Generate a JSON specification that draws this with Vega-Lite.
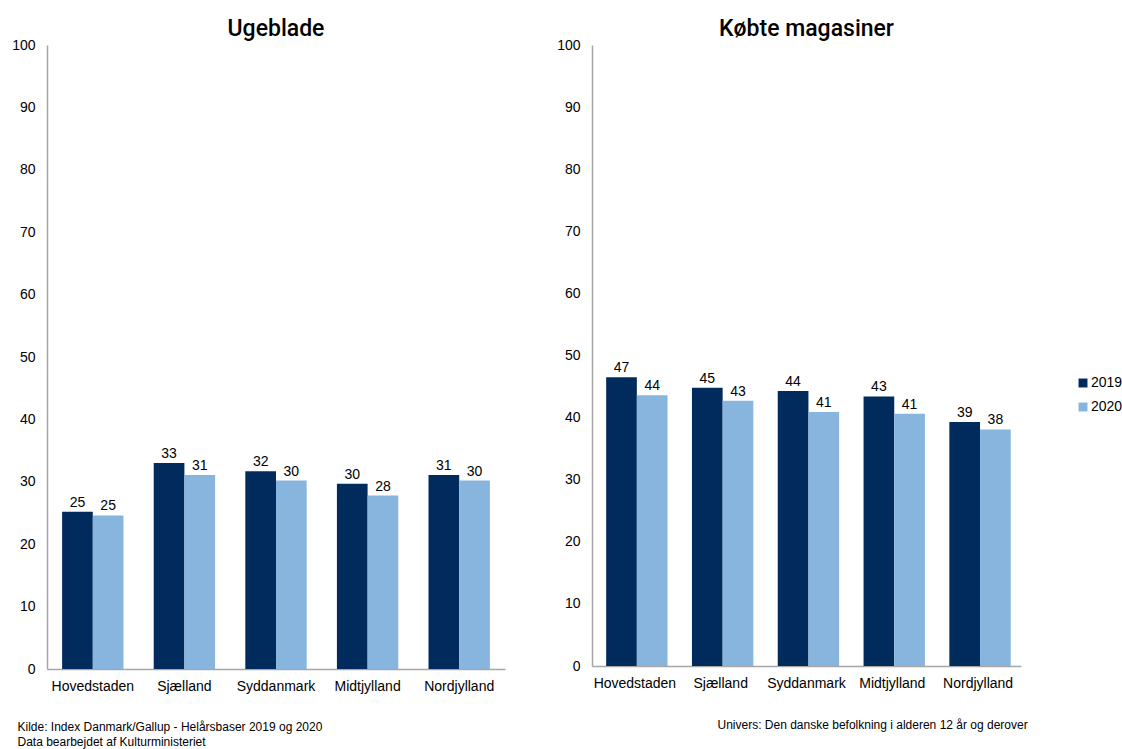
{
  "$schema": "https://vega.github.io/schema/vega-lite/v6.json",
  "background": "white",
  "padding": {"left": 11, "top": 18, "right": 0, "bottom": 5},
  "config": {
    "font": "Liberation Sans",
    "view": {"stroke": null},
    "axis": {"labelFont": "Liberation Sans", "labelFontSize": 14, "labelColor": "#000000", "grid": false, "ticks": false, "domainColor": "#a6a6a6", "domainWidth": 1.5},
    "title": {"font": "Roboto", "fontSize": 23, "fontWeight": 500, "color": "#000000", "anchor": "middle", "offset": -3},
    "legend": {"labelFont": "Liberation Sans", "labelFontSize": 14, "labelColor": "#000000"}
  },
  "datasets": {
    "uge": [
      {"region": "Hovedstaden", "year": "2019", "value": 25.2},
      {"region": "Hovedstaden", "year": "2020", "value": 24.6},
      {"region": "Sjælland", "year": "2019", "value": 33.0},
      {"region": "Sjælland", "year": "2020", "value": 31.1},
      {"region": "Syddanmark", "year": "2019", "value": 31.7},
      {"region": "Syddanmark", "year": "2020", "value": 30.2},
      {"region": "Midtjylland", "year": "2019", "value": 29.7},
      {"region": "Midtjylland", "year": "2020", "value": 27.8},
      {"region": "Nordjylland", "year": "2019", "value": 31.1},
      {"region": "Nordjylland", "year": "2020", "value": 30.2}
    ],
    "mag": [
      {"region": "Hovedstaden", "year": "2019", "value": 46.5},
      {"region": "Hovedstaden", "year": "2020", "value": 43.6},
      {"region": "Sjælland", "year": "2019", "value": 44.8},
      {"region": "Sjælland", "year": "2020", "value": 42.7},
      {"region": "Syddanmark", "year": "2019", "value": 44.3},
      {"region": "Syddanmark", "year": "2020", "value": 40.9},
      {"region": "Midtjylland", "year": "2019", "value": 43.4},
      {"region": "Midtjylland", "year": "2020", "value": 40.6},
      {"region": "Nordjylland", "year": "2019", "value": 39.3},
      {"region": "Nordjylland", "year": "2020", "value": 38.1}
    ]
  },
  "resolve": {"legend": {"color": "independent"}},
  "spacing": 51,
  "hconcat": [
    {
      "title": "Ugeblade",
      "width": 458,
      "height": 624,
      "data": {"name": "uge"},
      "encoding": {
        "x": {"field": "region", "type": "nominal", "sort": null,
              "scale": {"paddingInner": 0.33, "paddingOuter": 0.165},
              "axis": {"labelAngle": 0, "labelPadding": 10,
                       "title": ["Kilde: Index Danmark/Gallup - Helårsbaser 2019 og 2020", "Data bearbejdet af Kulturministeriet"],
                       "titleFont": "Liberation Sans", "titleFontSize": 12, "titleFontWeight": "normal", "titleColor": "#000000",
                       "titleAlign": "left", "titleAnchor": "start", "titleX": -30, "titleY": 52, "titleBaseline": "top", "titleLineHeight": 15}},
        "xOffset": {"field": "year", "type": "nominal"},
        "y": {"field": "value", "type": "quantitative",
              "scale": {"domain": [0, 100]},
              "axis": {"title": null, "values": [0,10,20,30,40,50,60,70,80,90,100], "labelPadding": 12}}
      },
      "layer": [
        {"mark": {"type": "bar"},
         "encoding": {"color": {"field": "year", "type": "nominal", "scale": {"domain": ["2019", "2020"], "range": ["#002b5c", "#88b5dd"]}, "legend": null}}},
        {"mark": {"type": "text", "dy": -9, "fontSize": 14, "color": "#000000", "font": "Liberation Sans"},
         "encoding": {"text": {"field": "value", "type": "quantitative", "format": ".0f"}}}
      ]
    },
    {
      "title": "Købte magasiner",
      "width": 429,
      "height": 621,
      "data": {"name": "mag"},
      "encoding": {
        "x": {"field": "region", "type": "nominal", "sort": null,
              "scale": {"paddingInner": 0.33, "paddingOuter": 0.165},
              "axis": {"labelAngle": 0, "labelPadding": 10,
                       "title": "Univers: Den danske befolkning i alderen 12 år og derover",
                       "titleFont": "Liberation Sans", "titleFontSize": 12, "titleFontWeight": "normal", "titleColor": "#000000",
                       "titleAlign": "left", "titleAnchor": "start", "titleX": 125, "titleY": 53, "titleBaseline": "top"}},
        "xOffset": {"field": "year", "type": "nominal"},
        "y": {"field": "value", "type": "quantitative",
              "scale": {"domain": [0, 100]},
              "axis": {"title": null, "values": [0,10,20,30,40,50,60,70,80,90,100], "labelPadding": 12}}
      },
      "layer": [
        {"mark": {"type": "bar"},
         "encoding": {"color": {"field": "year", "type": "nominal", "scale": {"domain": ["2019", "2020"], "range": ["#002b5c", "#88b5dd"]},
                                "legend": {"title": null, "orient": "none", "legendX": 484, "legendY": 331, "symbolType": "square", "symbolSize": 80, "symbolStrokeWidth": 0, "rowPadding": 10, "labelOffset": 1}}}},
        {"mark": {"type": "text", "dy": -9, "fontSize": 14, "color": "#000000", "font": "Liberation Sans"},
         "encoding": {"text": {"field": "value", "type": "quantitative", "format": ".0f"}}}
      ]
    }
  ]
}
